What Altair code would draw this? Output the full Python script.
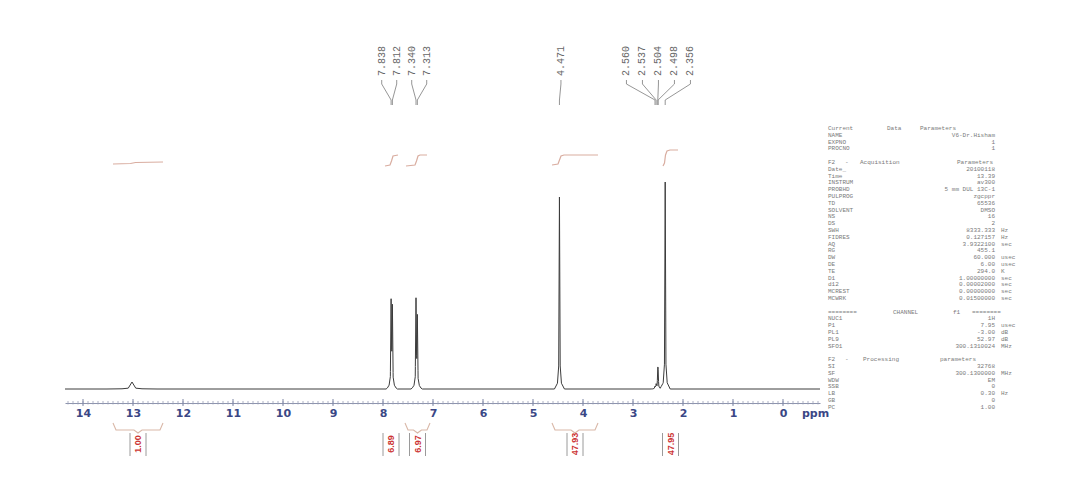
import altair as alt
import numpy as np
import pandas as pd

# ---------------- data ----------------
peak_ppm = [13.02, 7.838, 7.812, 7.340, 7.313, 4.471, 2.560, 2.537, 2.504, 2.498, 2.356]
peak_height = [7, 84, 78, 86, 68, 192, 2, 4, 14, 12, 207]
peak_broad = [5, 1, 1, 1, 1, 1, 1, 1, 1, 1, 1]

label_text = ["7.838", "7.812", "7.340", "7.313", "4.471", "2.560", "2.537", "2.504", "2.498", "2.356"]
label_ppm = [7.838, 7.812, 7.340, 7.313, 4.471, 2.560, 2.537, 2.504, 2.498, 2.356]
label_group = [0, 0, 0, 0, 1, 2, 2, 2, 2, 2]

integral_text = ["1.00", "6.89", "6.97", "47.93", "47.95"]
integral_from = [13.40, 7.92, 7.56, 4.62, 2.40]
integral_to = [12.40, 7.76, 7.06, 3.70, 2.10]
int_curve_ppm = [[13.40, 13.05, 12.95, 12.40],
                 [7.96, 7.86, 7.83, 7.80, 7.70],
                 [7.54, 7.36, 7.33, 7.30, 7.26, 7.12],
                 [4.62, 4.50, 4.47, 4.44, 4.38, 3.70],
                 [2.40, 2.37, 2.35, 2.32, 2.26, 2.10]]
int_curve_level = [[225, 225.5, 226.5, 227],
                   [223, 224, 228, 233, 234],
                   [223, 224, 228, 233, 234, 234],
                   [224, 225, 229, 233, 234, 234],
                   [223, 226, 234, 238, 239, 239]]

param_label = ["NAME", "EXPNO", "PROCNO", "Date_", "Time", "INSTRUM", "PROBHD", "PULPROG", "TD",
               "SOLVENT", "NS", "DS", "SWH", "FIDRES", "AQ", "RG", "DW", "DE", "TE", "D1", "d12",
               "MCREST", "MCWRK", "NUC1", "P1", "PL1", "PL9", "SFO1", "SI", "SF", "WDW", "SSB",
               "LB", "GB", "PC"]
param_value = ["V6-Dr.Hisham", "1", "1", "20100118", "13.39", "av300", "5 mm DUL 13C-1", "zgcppr",
               "65536", "DMSO", "16", "2", "8333.333", "0.127157", "3.9322100", "455.1", "60.000",
               "6.00", "294.0", "1.00000000", "0.00002000", "0.00000000", "0.01500000", "1H", "7.95",
               "-3.00", "52.97", "300.1310024", "32768", "300.1300000", "EM", "0", "0.30", "0", "1.00"]
param_unit = ["", "", "", "", "", "", "", "", "", "", "", "", "Hz", "Hz", "sec", "", "usec", "usec",
              "K", "sec", "sec", "sec", "sec", "", "usec", "dB", "dB", "MHz", "", "MHz", "", "",
              "Hz", "", ""]
param_row = [1, 2, 3, 6, 7, 8, 9, 10, 11, 12, 13, 14, 15, 16, 17, 18, 19, 20, 21, 22, 23, 24, 25,
             28, 29, 30, 31, 32, 35, 36, 37, 38, 39, 40, 41]
header_words = ["Current", "Data", "Parameters",
                "F2", "-", "Acquisition", "Parameters",
                "========", "CHANNEL", "f1", "========",
                "F2", "-", "Processing", "parameters"]
header_row = [0, 0, 0, 5, 5, 5, 5, 27, 27, 27, 27, 34, 34, 34, 34]

axis_major = list(range(0, 15))

# ---------------- layout helpers (page pixels -> data units) ----------------
def px_to_ppm(x):
    return (783.0 - x) / 50.0

def py_to_v(y):
    return 389.0 - y

# spectrum trace built from the peak list with a narrow line shape
shape_off = np.array([-0.10, -0.04, -0.015, 0.0, 0.015, 0.04, 0.10])
shape_frac = np.array([0.0, 0.03, 0.12, 1.0, 0.12, 0.03, 0.0])
xs = [-0.74, 14.36]
for p, b in zip(peak_ppm, peak_broad):
    xs.extend(list(p + shape_off * b))
xs = np.unique(np.round(np.array(xs), 5))
ys = np.zeros_like(xs)
for p, h, b in zip(peak_ppm, peak_height, peak_broad):
    ys += np.interp(xs, p + shape_off * b, shape_frac * h, left=0.0, right=0.0)
spec_df = pd.DataFrame({"ppm": xs, "v": ys})

# peak labels
lab_rows, conn_rows = [], []
for g in sorted(set(label_group)):
    idx = [i for i, gg in enumerate(label_group) if gg == g]
    n = len(idx)
    center = float(np.mean([label_ppm[i] for i in idx]))
    spacing = 0.30 if g == 0 else 0.32
    for k, i in enumerate(idx):
        lp = center + spacing * ((n - 1) / 2.0 - k)
        if n == 1:
            lp = label_ppm[i] - 0.03
        lab_rows.append({"ppm": lp, "v": py_to_v(76), "t": label_text[i]})
        pts = [(lp, py_to_v(80)), (lp, py_to_v(84)), (label_ppm[i], py_to_v(100)), (label_ppm[i], py_to_v(105))]
        for o, (a, b) in enumerate(pts):
            conn_rows.append({"ppm": a, "v": b, "id": i, "o": o})
lab_df = pd.DataFrame(lab_rows)
conn_df = pd.DataFrame(conn_rows)

# integral curves
icurve_rows = []
for j, (pp, ll) in enumerate(zip(int_curve_ppm, int_curve_level)):
    for o, (a, b) in enumerate(zip(pp, ll)):
        icurve_rows.append({"ppm": a, "v": b, "id": j, "o": o})
icurve_df = pd.DataFrame(icurve_rows)

# integral annotations below the axis
ilab_rows, ivl_rows, brk_rows = [], [], []
for j, (t, a, b) in enumerate(zip(integral_text, integral_from, integral_to)):
    c = (a + b) / 2.0
    ilab_rows.append({"ppm": c, "v": py_to_v(444), "t": t})
    for d in (-0.16, 0.16):
        ivl_rows.append({"ppm": c + d, "v": py_to_v(433), "v2": py_to_v(456)})
    if a - b > 0.4:
        pts = [(a, py_to_v(423)), (a - 0.06, py_to_v(430)), (c + 0.08, py_to_v(430)), (c, py_to_v(433)),
               (c - 0.08, py_to_v(430)), (b + 0.06, py_to_v(430)), (b, py_to_v(423))]
        for o, (x, y) in enumerate(pts):
            brk_rows.append({"ppm": x, "v": y, "id": j, "o": o})
ilab_df = pd.DataFrame(ilab_rows)
ivl_df = pd.DataFrame(ivl_rows)
brk_df = pd.DataFrame(brk_rows)

# axis ticks
minor = np.round(np.arange(-0.7, 14.31, 0.1), 1)
minor_df = pd.DataFrame({"ppm": minor, "v": py_to_v(404.5), "v2": py_to_v(401)})
major_df = pd.DataFrame({"ppm": axis_major, "v": py_to_v(406), "v2": py_to_v(399)})

# parameter panel
def row_y(r):
    return 128 + 6.8 * r

par_df = pd.DataFrame({
    "lab": param_label, "val": param_value, "unit": param_unit,
    "v": [py_to_v(row_y(r)) for r in param_row],
})
par_df["ppm_l"] = px_to_ppm(828)
par_df["ppm_v"] = px_to_ppm(995)
par_df["ppm_u"] = px_to_ppm(1001)
header_x = [828, 887, 920, 828, 845, 860, 957, 828, 893, 953, 972, 828, 845, 863, 940]
hdr_df = pd.DataFrame({"t": header_words, "ppm": [px_to_ppm(x) for x in header_x],
                       "v": [py_to_v(row_y(r)) for r in header_row]})
ppm_df = pd.DataFrame({"ppm": [px_to_ppm(802)], "v": [py_to_v(414)], "t": ["ppm"]})

# ---------------- chart ----------------
x_scale = alt.Scale(domain=[-0.74, 14.36], reverse=True, nice=False, zero=False)
y_scale = alt.Scale(domain=[-14, 381], nice=False, zero=False)
x_axis = alt.Axis(values=axis_major, format="d", title=None, grid=False, ticks=False,
                  domain=True, domainColor="#8d94ad", labelColor="#3a4785",
                  labelFont="DejaVu Sans", labelFontSize=11, labelFontWeight="bold",
                  labelPadding=4)

def X(f="ppm"):
    return alt.X(f"{f}:Q", scale=x_scale, axis=x_axis, title=None)

def Y(f="v"):
    return alt.Y(f"{f}:Q", scale=y_scale, axis=None, title=None)

spectrum = alt.Chart(spec_df).mark_line(color="#3c3c3c", strokeWidth=1).encode(
    x=X(), y=Y(), order=alt.Order("ppm:Q"))

conn = alt.Chart(conn_df).mark_line(color="#8a8a8a", strokeWidth=0.9).encode(
    x=X(), y=Y(), detail="id:N", order=alt.Order("o:Q"))

labels = alt.Chart(lab_df).mark_text(angle=270, align="left", baseline="middle",
                                     font="Liberation Mono", fontSize=10, color="#666666").encode(
    x=X(), y=Y(), text="t:N")

icurves = alt.Chart(icurve_df).mark_line(color="#d9ada0", strokeWidth=1.2).encode(
    x=X(), y=Y(), detail="id:N", order=alt.Order("o:Q"))

brackets = alt.Chart(brk_df).mark_line(color="#d9b7a7", strokeWidth=1.1).encode(
    x=X(), y=Y(), detail="id:N", order=alt.Order("o:Q"))

ivlines = alt.Chart(ivl_df).mark_rule(color="#9a9a9a", strokeWidth=1).encode(
    x=X(), y=Y(), y2=alt.Y2("v2:Q"))

ilabels = alt.Chart(ilab_df).mark_text(angle=270, align="center", baseline="middle",
                                       font="Liberation Sans", fontSize=9, fontWeight="bold",
                                       color="#cc3333").encode(
    x=X(), y=Y(), text="t:N")

minor_ticks = alt.Chart(minor_df).mark_rule(color="#9aa0b8", strokeWidth=0.8).encode(
    x=X(), y=Y(), y2=alt.Y2("v2:Q"))
major_ticks = alt.Chart(major_df).mark_rule(color="#7f87a6", strokeWidth=1).encode(
    x=X(), y=Y(), y2=alt.Y2("v2:Q"))

ppm_text = alt.Chart(ppm_df).mark_text(align="left", baseline="middle", font="DejaVu Sans",
                                       fontSize=11, fontWeight="bold", color="#3a4785").encode(
    x=X(), y=Y(), text="t:N")

ptxt = dict(baseline="middle", font="Liberation Mono", fontSize=6, color="#7a7a7a")
par_lab = alt.Chart(par_df).mark_text(align="left", **ptxt).encode(x=X("ppm_l"), y=Y(), text="lab:N")
par_val = alt.Chart(par_df).mark_text(align="right", **ptxt).encode(x=X("ppm_v"), y=Y(), text="val:N")
par_unit = alt.Chart(par_df).mark_text(align="left", **ptxt).encode(x=X("ppm_u"), y=Y(), text="unit:N")
par_hdr = alt.Chart(hdr_df).mark_text(align="left", **ptxt).encode(x=X(), y=Y(), text="t:N")

chart = alt.layer(
    minor_ticks, major_ticks, spectrum, icurves, conn, labels, brackets, ivlines, ilabels,
    ppm_text, par_lab, par_val, par_unit, par_hdr,
).properties(
    width=755, height=395,
    autosize=alt.AutoSizeParams(type="none"),
    padding={"left": 57, "top": 0, "right": 256, "bottom": 66},
    background="white",
).configure_view(stroke=None)

chart.save("out.html", embed_options={"renderer": "svg", "actions": False})
